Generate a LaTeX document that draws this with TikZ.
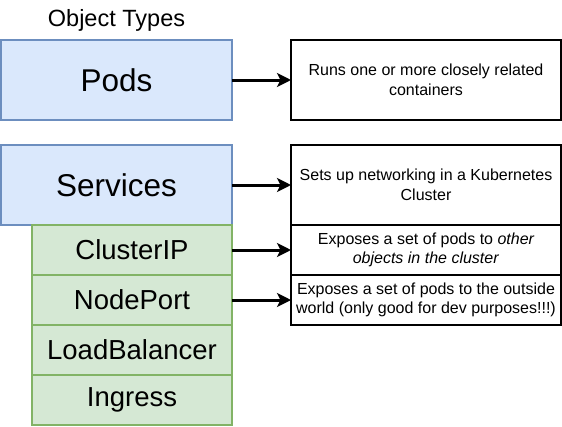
\documentclass[tikz,border=0pt]{standalone}
\usepackage{fontspec}
\setmainfont{Liberation Sans}
\usetikzlibrary{arrows.meta}
\definecolor{bluefill}{HTML}{DAE8FC}
\definecolor{bluedraw}{HTML}{6C8EBF}
\definecolor{greenfill}{HTML}{D5E8D4}
\definecolor{greendraw}{HTML}{82B366}
\begin{document}
\begin{tikzpicture}[x=1pt,y=-1pt,
  bluebox/.style={draw=bluedraw,fill=bluefill,line width=1.3pt,minimum width=231pt,minimum height=80pt,inner sep=0pt,outer sep=0pt,font=\fontsize{31.5}{36}\selectfont},
  greenbox/.style={draw=greendraw,fill=greenfill,line width=1.3pt,minimum width=200pt,minimum height=50pt,inner sep=0pt,outer sep=0pt,font=\fontsize{27.5}{31}\selectfont},
  descbox/.style={draw=black,fill=white,line width=1.3pt,minimum width=270pt,inner sep=0pt,outer sep=0pt,text width=266pt,align=flush center,font=\fontsize{16}{19.5}\selectfont},
  conn/.style={-{Stealth[length=14pt,width=14pt,inset=3.5pt]},line width=3pt}]
\useasboundingbox (0,0) rectangle (562,426);
\node[font=\fontsize{23.5}{27}\selectfont] (title) at (116.5,20) {Object Types};
\node[bluebox] (pods) at (116.5,80) {Pods};
\node[bluebox] (services) at (116.5,185) {Services};
\node[greenbox] (clusterip) at (132,250) {ClusterIP};
\node[greenbox] (nodeport) at (132,300) {NodePort};
\node[greenbox] (lb) at (132,350) {LoadBalancer};
\node[greenbox] (ingress) at (132,400) {Ingress};
\node[descbox,minimum height=80pt] (runs) at (426,80) {Runs one or more closely related containers};
\node[descbox,minimum height=80pt] (sets) at (426,185) {Sets up networking in a Kubernetes Cluster};
\node[descbox,minimum height=50pt] (exp1) at (426,250) {Exposes a set of pods to \textit{other objects in the cluster}};
\node[descbox,minimum height=50pt] (exp2) at (426,300) {Exposes a set of pods to the outside world (only good for dev purposes!!!)};
\draw[conn] (pods.east) -- (runs.west);
\draw[conn] (services.east) -- (sets.west);
\draw[conn] (clusterip.east) -- (exp1.west);
\draw[conn] (nodeport.east) -- (exp2.west);
\end{tikzpicture}
\end{document}
